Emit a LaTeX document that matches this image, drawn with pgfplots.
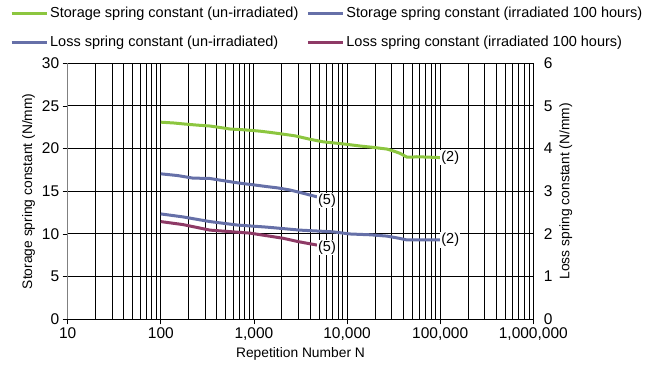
\documentclass[border=0pt]{standalone}
\usepackage{fontspec}
\setmainfont{Liberation Sans}
\usepackage{pgfplots}
\pgfplotsset{compat=1.18}
\definecolor{cgreen}{HTML}{8CC63F}
\definecolor{cblue}{HTML}{6670A8}
\definecolor{cpurple}{HTML}{8E3A66}
\newcommand{\lfont}{\fontsize{13.8}{15}\selectfont}
\newcommand{\gfont}{\fontsize{14.5}{16}\selectfont}
\newcommand{\tfont}{\fontsize{15.5}{17}\selectfont}
\begin{document}
\begin{tikzpicture}[x=1pt,y=1pt]
\path[use as bounding box] (0,0) rectangle (661,376);
\begin{axis}[
  at={(67.7pt,56.7pt)}, anchor=south west,
  scale only axis, width=465.6pt, height=256pt,
  xmode=log, log basis x=10, xmin=10, xmax=1000000, ymin=0, ymax=30,
  xtick={10,100,1000,10000,100000,1000000},
  xticklabels={10,100,{1,000},{10,000},{100,000},{1,000,000}},
  minor xtick={20,30,40,50,60,70,80,90,200,300,400,500,600,700,800,900,2000,3000,4000,5000,6000,7000,8000,9000,20000,30000,40000,50000,60000,70000,80000,90000,200000,300000,400000,500000,600000,700000,800000,900000},
  ytick={0,5,10,15,20,25,30},
  xmajorgrids, xminorgrids, ymajorgrids,
  major grid style={black, line width=1pt},
  minor grid style={black, line width=1pt},
  axis x line*=bottom, axis y line*=left,
  x axis line style={black, line width=0.8pt, -},
  y axis line style={gray, line width=0.8pt, -},
  tick align=outside, major tick length=5pt, minor tick length=0pt,
  tick style={black, line width=0.8pt},
  /pgf/number format/assume math mode=true,
  tick label style={font=\tfont},
  xlabel={Repetition Number N},
  ylabel={Storage spring constant (N/mm)},
  label style={font=\lfont},
]
\addplot[cgreen, line width=3pt] table {
100 23.1
140 23.0
173 22.9
250 22.75
337 22.65
450 22.45
553 22.3
800 22.2
1160 22.05
1500 21.9
1905 21.75
2760 21.5
4000 21.1
5520 20.8
7500 20.65
10000 20.5
14000 20.3
19000 20.15
26800 19.95
32000 19.7
37000 19.45
44000 19.0
50000 19.0
56000 19.05
75000 19.0
100000 18.95
};
\addplot[cblue, line width=3pt] table {
100 17.05
150 16.85
220 16.55
337 16.5
500 16.2
708 15.95
1000 15.75
1380 15.55
1800 15.4
2440 15.15
3300 14.8
4750 14.35
};
\node[anchor=west, fill=white, inner sep=1pt, font=\gfont] at (axis cs:100000,18.95) {(2)};
\node[anchor=west, fill=white, inner sep=1pt, font=\gfont] at (axis cs:4750,13.9) {(5)};
\end{axis}
\begin{axis}[
  at={(67.7pt,56.7pt)}, anchor=south west,
  scale only axis, width=465.6pt, height=256pt,
  xmode=log, log basis x=10, xmin=10, xmax=1000000, ymin=0, ymax=6,
  axis x line=none, axis y line*=right,
  y axis line style={black, line width=0.8pt, -},
  ytick={0,1,2,3,4,5,6},
  major tick length=0pt,
  /pgf/number format/assume math mode=true,
  tick label style={font=\tfont},
  yticklabel style={xshift=7pt},
  ylabel={Loss spring constant (N/mm)},
  label style={font=\lfont},
  legend columns=2,
  legend cell align=left,
  legend style={at={(axis description cs:-0.124,1.227)}, anchor=north west, draw=none, fill=none, font=\gfont, inner sep=0pt, row sep=13pt, /tikz/every even column/.append style={column sep=6pt}},
  legend image code/.code={\draw[#1, line width=3pt] (0pt,0pt) -- (35pt,0pt);},
]
\addlegendimage{cgreen}
\addlegendentry{Storage spring constant (un-irradiated)}
\addlegendimage{cblue}
\addlegendentry{Storage spring constant (irradiated 100 hours)}
\addplot[cblue, line width=3pt] table {
100 2.47
173 2.40
337 2.29
658 2.21
1380 2.16
3130 2.09
7060 2.05
10700 2.00
18000 1.98
26800 1.95
36000 1.90
44000 1.86
60000 1.86
100000 1.86
};
\addlegendentry{Loss spring constant (un-irradiated)}
\addplot[cpurple, line width=3pt] table {
100 2.29
173 2.22
337 2.09
906 2.02
2050 1.90
3000 1.82
4750 1.74
};
\addlegendentry{Loss spring constant (irradiated 100 hours)}
\node[anchor=west, fill=white, inner sep=1pt, font=\gfont] at (axis cs:100000,1.86) {(2)};
\node[anchor=west, fill=white, inner sep=1pt, font=\gfont] at (axis cs:4750,1.68) {(5)};
\end{axis}
\end{tikzpicture}
\end{document}
